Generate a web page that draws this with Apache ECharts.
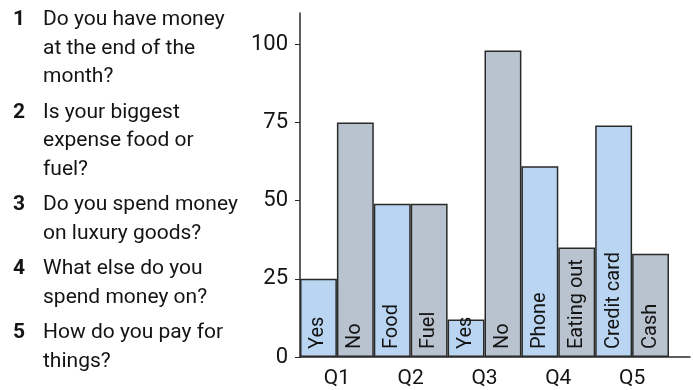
<!DOCTYPE html>
<html>
<head>
<meta charset="utf-8">
<script src="https://cdn.jsdelivr.net/npm/echarts@6/dist/echarts.min.js"></script>
<style>
  html, body { margin: 0; padding: 0; background: #ffffff; }
  #chart { width: 693px; height: 390px; }
</style>
</head>
<body>
<div id="chart"></div>
<script>
// Survey questions, one array of wrapped lines per question
const questions = [
  ['Do you have money', 'at the end of the', 'month?'],
  ['Is your biggest', 'expense food or', 'fuel?'],
  ['Do you spend money', 'on luxury goods?'],
  ['What else do you', 'spend money on?'],
  ['How do you pay for', 'things?']
];
// Question groups on the x axis, two answers per group
const groups = ['Q1', 'Q2', 'Q3', 'Q4', 'Q5'];
const answers = ['Yes', 'No', 'Food', 'Fuel', 'Yes', 'No', 'Phone', 'Eating out', 'Credit card', 'Cash'];
// Number of people giving each answer
const values = [25, 75, 49, 49, 12, 98, 61, 35, 74, 33];
// Value axis ticks
const yTicks = [0, 25, 50, 75, 100];

const textColor = '#141414';
const lineColor = '#2a2a2a';
const firstColor = '#b9d5f1';
const secondColor = '#b9c3cf';

// Question list on the left
const graphics = [];
const firstLineY = 20, lineStep = 28.5, itemGap = 7;
let lineNo = 0;
questions.forEach((lines, qi) => {
  const y0 = firstLineY + lineNo * lineStep + qi * itemGap;
  graphics.push({
    type: 'text', x: 13, y: y0,
    style: { text: String(qi + 1), font: 'bold 21px Roboto', fill: textColor, verticalAlign: 'middle' }
  });
  lines.forEach((ln, li) => {
    graphics.push({
      type: 'text', x: 43, y: y0 + li * lineStep,
      style: { text: ln, font: '21px Roboto', fill: textColor, verticalAlign: 'middle' }
    });
  });
  lineNo += lines.length;
});

const chart = echarts.init(document.getElementById('chart'), null, { renderer: 'canvas' });
chart.setOption({
  animation: false,
  backgroundColor: '#ffffff',
  graphic: graphics,
  grid: [
    { left: 300, right: 24, top: 13, bottom: 33 },
    { left: 300, right: 3, top: 13, bottom: 33 }
  ],
  xAxis: [
    {
      type: 'category', gridIndex: 0,
      data: answers.map((a, i) => i),
      boundaryGap: true,
      axisLine: { show: false },
      axisTick: { show: false },
      axisLabel: { show: false }
    },
    {
      type: 'category', gridIndex: 0, position: 'bottom',
      data: groups,
      boundaryGap: true,
      axisLine: { show: false },
      axisTick: { show: false },
      axisLabel: { margin: 11, fontFamily: 'Roboto', fontSize: 21, color: textColor }
    },
    {
      // baseline running past the last bar
      type: 'value', gridIndex: 1, min: 0, max: 1,
      axisLine: { show: true, onZero: false, lineStyle: { color: lineColor, width: 1.5 } },
      axisTick: { show: false },
      axisLabel: { show: false },
      splitLine: { show: false }
    }
  ],
  yAxis: [
    {
      type: 'value', gridIndex: 0, min: 0, max: 110,
      axisLine: { show: true, lineStyle: { color: lineColor, width: 1.5 } },
      axisTick: { show: true, length: 5, customValues: yTicks, lineStyle: { color: lineColor, width: 1 } },
      axisLabel: { customValues: yTicks, margin: 12, fontFamily: 'Roboto', fontSize: 22, color: textColor },
      splitLine: { show: false }
    },
    { type: 'value', gridIndex: 1, min: 0, max: 1, show: false }
  ],
  series: [
    {
      type: 'bar',
      xAxisIndex: 0, yAxisIndex: 0,
      data: values,
      barWidth: '100%',
      barCategoryGap: '0%',
      itemStyle: {
        color: p => (p.dataIndex % 2 === 0 ? firstColor : secondColor),
        borderColor: lineColor,
        borderWidth: 1.5
      },
      label: {
        show: true,
        position: 'insideBottom',
        rotate: 90,
        align: 'left',
        verticalAlign: 'middle',
        distance: 8,
        fontFamily: 'Roboto',
        fontSize: 20,
        color: textColor,
        formatter: p => answers[p.dataIndex]
      }
    }
  ]
});
</script>
</body>
</html>
